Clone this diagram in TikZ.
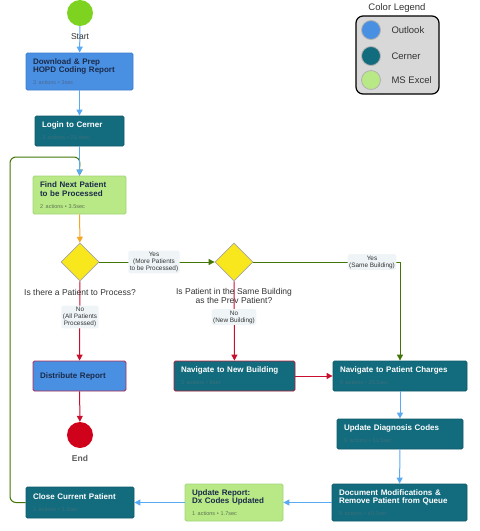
\documentclass[tikz,border=0pt]{standalone}
\usepackage{fontspec}
\setmainfont{Liberation Sans}
\usetikzlibrary{shapes.geometric,arrows.meta}
\definecolor{outlookc}{HTML}{4A90E2}
\definecolor{outlookb}{HTML}{3B7DD0}
\definecolor{cernerc}{HTML}{136C7E}
\definecolor{cernerb}{HTML}{0E5A69}
\definecolor{excelc}{HTML}{B8E986}
\definecolor{excelb}{HTML}{A3D47A}
\definecolor{navyt}{HTML}{1B2A4A}
\definecolor{bluel}{HTML}{5AA9F3}
\definecolor{redl}{HTML}{C8102E}
\definecolor{greenl}{HTML}{417505}
\definecolor{orangel}{HTML}{F5A623}
\definecolor{diafill}{HTML}{F8E71C}
\definecolor{lblfill}{HTML}{EFF5F7}
\definecolor{txtgray}{HTML}{333333}
\definecolor{subblue}{HTML}{4A6A94}
\definecolor{subteal}{HTML}{3A6F7C}
\definecolor{subgreen}{HTML}{5F7452}
\definecolor{legfill}{HTML}{D8D8D8}
\definecolor{startc}{HTML}{7ED321}
\definecolor{endc}{HTML}{D0021B}
\newcommand{\subtx}[2]{{\fontsize{5.5}{6}\selectfont\mdseries\color{#1}#2}}
\tikzset{
  box/.style={rectangle, rounded corners=1.5pt, align=left, inner xsep=7pt, inner ysep=3pt, line width=0.8pt,
    font=\fontsize{8}{8.5}\selectfont\bfseries},
  outlook/.style={box, fill=outlookc, draw=outlookb, text=navyt},
  cerner/.style={box, fill=cernerc, draw=cernerb, text=white},
  excel/.style={box, fill=excelc, draw=excelb, text=navyt},
  dia/.style={diamond, fill=diafill, draw=gray!70, line width=0.8pt, minimum width=38pt, minimum height=38pt, inner sep=0pt},
  lbl/.style={fill=lblfill, rounded corners=2pt, align=center, inner sep=1.5pt, text=txtgray,
    font=\fontsize{6.4}{7}\selectfont},
  qtext/.style={align=center, text=txtgray, font=\fontsize{8.5}{8.5}\selectfont},
  arr/.style={line width=1pt, -{Triangle[length=6pt,width=6pt]}},
  bluearr/.style={arr, draw=bluel, bluel},
  redarr/.style={arr, draw=redl, redl},
  greenarr/.style={arr, draw=greenl, greenl},
  orangearr/.style={arr, draw=orangel, orangel},
  legc/.style={circle, minimum size=19pt, inner sep=0pt, draw=gray!60, line width=0.8pt},
  legt/.style={anchor=west, text=txtgray, font=\fontsize{9.5}{10}\selectfont}
}
\begin{document}
\begin{tikzpicture}[x=1pt,y=-1pt]
\useasboundingbox (0,0) rectangle (480,531);
% legend
\node[font=\fontsize{9.5}{10}\selectfont, text=txtgray] (legtitle) at (397,8) {Color Legend};
\node[draw=black, line width=1.2pt, fill=legfill, rounded corners=7pt, minimum width=83pt, minimum height=78pt] (legend) at (397.5,55) {};
\node[legc, fill=outlookc] (lc1) at (371,30) {};
\node[legc, fill=cernerc] (lc2) at (371,56) {};
\node[legc, fill=excelc] (lc3) at (371,80) {};
\node[legt] (lt1) at (388,30) {Outlook};
\node[legt] (lt2) at (388,56) {Cerner};
\node[legt] (lt3) at (388,80) {MS Excel};

% start
\node[circle, fill=startc, minimum size=26pt, inner sep=0pt] (start) at (80,13) {};
% boxes
\node[outlook, minimum width=107pt, minimum height=37pt, text width=93pt] (download) at (79.5,71.5)
  {Download \& Prep\\HOPD Coding Report\\[3.5pt]\subtx{subblue}{3 actions\,\,•\,\,3sec}};
\node[cerner, minimum width=89pt, minimum height=30pt, text width=75pt] (login) at (79.5,131)
  {Login to Cerner\\[3.5pt]\subtx{subteal}{3 actions\,\,•\,\,21.4sec}};
\node[excel, minimum width=93pt, minimum height=38pt, text width=79pt] (find) at (79.5,195)
  {Find Next Patient\\to be Processed\\[3.5pt]\subtx{subgreen}{2 actions\,\,•\,\,3.5sec}};
\node[dia] (d1) at (80,262) {};
\node[dia] (d2) at (234,262) {};
\node[outlook, draw=redl!80!outlookc, minimum width=93pt, minimum height=30pt, text width=79pt] (distribute) at (79.5,376)
  {Distribute Report\\[5pt]};
\node[circle, fill=endc, minimum size=26pt, inner sep=0pt] (endc) at (80,435) {};
\node[cerner, draw=redl!85!cernerc, minimum width=121pt, minimum height=30pt, text width=107pt] (navnew) at (234.5,376)
  {Navigate to New Building\\[3.5pt]\subtx{subteal}{2 actions\,\,•\,\,8sec}};
\node[cerner, minimum width=134pt, minimum height=30pt, text width=120pt] (navch) at (400,376)
  {Navigate to Patient Charges\\[3.5pt]\subtx{subteal}{6 actions\,\,•\,\,35.5sec}};
\node[cerner, minimum width=126pt, minimum height=30pt, text width=112pt] (updiag) at (400,434)
  {Update Diagnosis Codes\\[3.5pt]\subtx{subteal}{9 actions\,\,•\,\,51.5sec}};
\node[cerner, minimum width=135pt, minimum height=37pt, text width=121pt] (docmod) at (399.5,502.5)
  {Document Modifications \&\\Remove Patient from Queue\\[3.5pt]\subtx{subteal}{9 actions\,\,•\,\,40.3sec}};
\node[excel, minimum width=98pt, minimum height=37pt, text width=84pt] (upreport) at (234,502.5)
  {Update Report:\\Dx Codes Updated\\[3.5pt]\subtx{subgreen}{1 actions\,\,•\,\,1.7sec}};
\node[cerner, minimum width=108pt, minimum height=31pt, text width=94pt] (close) at (80,502.5)
  {Close Current Patient\\[3.5pt]\subtx{subteal}{1 actions\,\,•\,\,2.2sec}};

% connectors
\coordinate (loopa) at (10,502.5);
\coordinate (loopb) at (10,157);
\coordinate (loopc) at (80,157);
\draw[greenarr, rounded corners=6pt] (close.west) -- (loopa) -- (loopb) -- (loopc) -- (find.north);
\draw[bluearr] (start) -- (download);
\draw[bluearr] (download) -- (login);
\draw[bluearr] (login) -- (find);
\draw[orangearr] (find) -- (d1);
\draw[greenarr] (d1) -- (d2);
\draw[redarr] (d1) -- (distribute);
\draw[redarr] (distribute) -- (endc);
\draw[redarr] (d2) -- (navnew);
\draw[greenarr] (d2.east) -| (navch.north);
\draw[redarr] (navnew) -- (navch);
\draw[bluearr] (navch) -- (updiag);
\draw[bluearr] (updiag) -- (docmod);
\draw[bluearr] (docmod) -- (upreport);
\draw[bluearr] (upreport) -- (close);

% labels
\node[qtext] (startlbl) at (80,37) {Start};
\node[qtext, font=\fontsize{8.5}{8.5}\selectfont\bfseries, text=txtgray!80] (endlbl) at (80,458) {End};
\node[qtext] (q1) at (80,292) {Is there a Patient to Process?};
\node[qtext, font=\fontsize{8.5}{8.3}\selectfont] (q2) at (234,296) {Is Patient in the Same Building\\as the Prev Patient?};
\node[lbl] (yes1) at (154,262) {Yes\\(More Patients\\to be Processed)};
\node[lbl] (no1) at (80,317) {No\\(All Patients\\Processed)};
\node[lbl] (no2) at (234,317) {No\\(New Building)};
\node[lbl] (yes2) at (372,262) {Yes\\(Same Building)};
\end{tikzpicture}
\end{document}
